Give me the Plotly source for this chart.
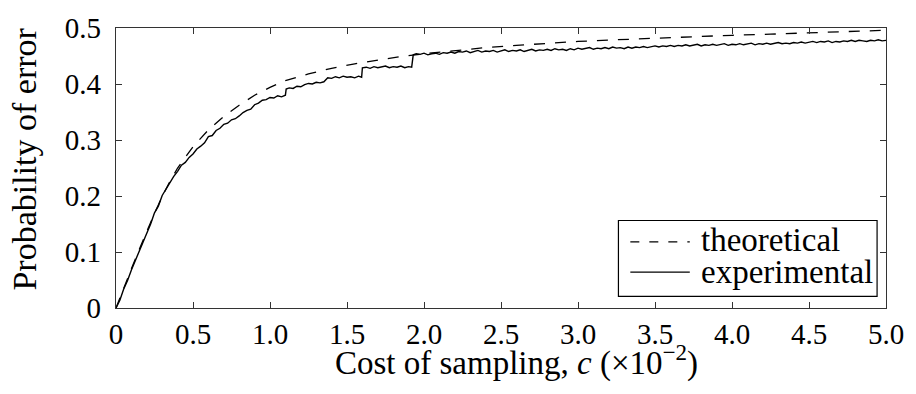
import plotly.graph_objects as go

# ---- data -------------------------------------------------------------
x_tick_vals = [0, 0.5, 1.0, 1.5, 2.0, 2.5, 3.0, 3.5, 4.0, 4.5, 5.0]
x_tick_text = ["0", "0.5", "1.0", "1.5", "2.0", "2.5", "3.0", "3.5", "4.0", "4.5", "5.0"]
y_tick_vals = [0, 0.1, 0.2, 0.3, 0.4, 0.5]
y_tick_text = ["0", "0.1", "0.2", "0.3", "0.4", "0.5"]

# theoretical probability of error vs cost of sampling (c in units of 1e-2)
theo_c = [0.0, 0.05, 0.1, 0.15, 0.2, 0.25, 0.3, 0.35, 0.4, 0.45, 0.5, 0.6, 0.7,
          0.8, 0.9, 1.0, 1.1, 1.25, 1.4, 1.55, 1.7, 1.85, 2.0, 2.2, 2.4, 2.6,
          2.8, 3.0, 3.25, 3.5, 3.75, 4.0, 4.25, 4.5, 4.75, 5.0]
theo_p = [0.000, 0.036, 0.070, 0.104, 0.137, 0.169, 0.199, 0.226, 0.250, 0.270,
          0.288, 0.318, 0.342, 0.362, 0.380, 0.394, 0.406, 0.418, 0.428, 0.436,
          0.443, 0.449, 0.454, 0.460, 0.465, 0.469, 0.473, 0.476, 0.479, 0.482,
          0.485, 0.487, 0.489, 0.491, 0.494, 0.496]

# experimental (simulated) probability of error
exp_c = [
    0.000, 0.025, 0.050, 0.075, 0.100, 0.125, 0.150, 0.175, 0.200, 0.225,
    0.250, 0.275, 0.300, 0.325, 0.350, 0.375, 0.400, 0.425, 0.450, 0.475,
    0.500, 0.525, 0.550, 0.575, 0.600, 0.625, 0.650, 0.675, 0.700, 0.725,
    0.750, 0.775, 0.800, 0.825, 0.850, 0.875, 0.900, 0.925, 0.950, 0.975,
    1.000, 1.025, 1.050, 1.075, 1.100,
    1.105, 1.125, 1.150, 1.175, 1.200, 1.225, 1.250, 1.275, 1.300, 1.325,
    1.350, 1.375, 1.400, 1.425, 1.450, 1.475, 1.500, 1.525, 1.550, 1.575,
    1.595,
    1.600, 1.625, 1.650, 1.675, 1.700, 1.725, 1.750, 1.775, 1.800, 1.825,
    1.850, 1.875, 1.900, 1.920,
    1.930, 1.950, 1.975,
    2.000, 2.025, 2.050, 2.075, 2.100, 2.125, 2.150, 2.175, 2.200, 2.225,
    2.250, 2.275, 2.300, 2.325, 2.350, 2.375, 2.400, 2.425, 2.450, 2.475,
    2.500, 2.525, 2.550, 2.575, 2.600, 2.625, 2.650, 2.675, 2.700, 2.725,
    2.750, 2.775, 2.800, 2.825, 2.850, 2.875, 2.900, 2.925, 2.950, 2.975,
    3.000, 3.025, 3.050, 3.075, 3.100, 3.125, 3.150, 3.175, 3.200, 3.225,
    3.250, 3.275, 3.300, 3.325, 3.350, 3.375, 3.400, 3.425, 3.450, 3.475,
    3.500, 3.525, 3.550, 3.575, 3.600, 3.625, 3.650, 3.675, 3.700, 3.725,
    3.750, 3.775, 3.800, 3.825, 3.850, 3.875, 3.900, 3.925, 3.950, 3.975,
    4.000, 4.025, 4.050, 4.075, 4.100, 4.125, 4.150, 4.175, 4.200, 4.225,
    4.250, 4.275, 4.300, 4.325, 4.350, 4.375, 4.400, 4.425, 4.450, 4.475,
    4.500, 4.525, 4.550, 4.575, 4.600, 4.625, 4.650, 4.675, 4.700, 4.725,
    4.750, 4.775, 4.800, 4.825, 4.850, 4.875, 4.900, 4.925, 4.950, 4.975,
    5.000,
]
exp_p = [
    0.000, 0.014, 0.034, 0.049, 0.068, 0.084, 0.099, 0.118, 0.133, 0.150,
    0.170, 0.182, 0.201, 0.212, 0.225, 0.235, 0.244, 0.255, 0.260, 0.269,
    0.275, 0.284, 0.289, 0.295, 0.306, 0.308, 0.317, 0.321, 0.328, 0.330,
    0.336, 0.338, 0.343, 0.349, 0.353, 0.355, 0.363, 0.366, 0.371, 0.372,
    0.376, 0.375, 0.379, 0.377, 0.380,
    0.391, 0.393, 0.392, 0.396, 0.395, 0.399, 0.401, 0.400, 0.403, 0.402,
    0.404, 0.411, 0.410, 0.413, 0.411, 0.414, 0.412, 0.413, 0.411, 0.414,
    0.412,
    0.429, 0.430, 0.428, 0.431, 0.429, 0.430, 0.432, 0.429, 0.431, 0.430,
    0.432, 0.429, 0.431, 0.430,
    0.452, 0.454, 0.453,
    0.455, 0.452, 0.454, 0.455, 0.453, 0.456, 0.455, 0.457, 0.455, 0.458,
    0.457, 0.459, 0.456, 0.458, 0.460, 0.457, 0.459, 0.458, 0.460, 0.457,
    0.459, 0.461, 0.458, 0.460, 0.459, 0.461, 0.458, 0.460, 0.462, 0.459,
    0.461, 0.460, 0.462, 0.460, 0.463, 0.461, 0.462, 0.460, 0.463, 0.461,
    0.464, 0.462, 0.463, 0.465, 0.462, 0.464, 0.463, 0.465, 0.463, 0.466,
    0.464, 0.465, 0.463, 0.466, 0.464, 0.466, 0.465, 0.467, 0.465, 0.466,
    0.468, 0.466, 0.468, 0.467, 0.469, 0.467, 0.469, 0.468, 0.470, 0.468,
    0.469, 0.471, 0.468, 0.470, 0.469, 0.471, 0.469, 0.470, 0.472, 0.469,
    0.471, 0.470, 0.472, 0.470, 0.471, 0.473, 0.470, 0.472, 0.471, 0.473,
    0.471, 0.472, 0.474, 0.472, 0.473, 0.472, 0.474, 0.473, 0.475, 0.473,
    0.474, 0.476, 0.474, 0.476, 0.475, 0.477, 0.474, 0.476, 0.475, 0.477,
    0.476, 0.478, 0.476, 0.478, 0.477, 0.476, 0.478, 0.477, 0.479, 0.477,
    0.478,
]
assert len(exp_c) == len(exp_p)

# ---- layout geometry (pixels) -----------------------------------------
W, H = 916, 394
L, R, T, B = 116, 23, 20, 86
PW, PH = W - L - R, H - T - B


def px(xp):
    return (xp - L) / PW


def py(yp):
    return (H - B - yp) / PH


SERIF = "Liberation Serif"
FRAME = "#333333"

fig = go.Figure()
fig.add_trace(go.Scatter(x=theo_c, y=theo_p, mode="lines", name="theoretical",
                         line=dict(color="black", width=1.3, dash="11px,10px"),
                         showlegend=False))
fig.add_trace(go.Scatter(x=exp_c, y=exp_p, mode="lines", name="experimental",
                         line=dict(color="black", width=1.4),
                         showlegend=False))

axis_common = dict(showline=True, linecolor=FRAME, linewidth=1.3, mirror="allticks",
                   ticks="inside", ticklen=6, tickwidth=1.2, tickcolor=FRAME,
                   showgrid=False, zeroline=False,
                   tickfont=dict(family=SERIF, size=29, color="black"))
fig.update_xaxes(range=[0, 5], tickvals=x_tick_vals, ticktext=x_tick_text,
                 ticklabelstandoff=0, **axis_common)
fig.update_yaxes(range=[0, 0.5], tickvals=y_tick_vals, ticktext=y_tick_text,
                 ticklabelstandoff=8, **axis_common)

# legend box with line samples
lx0, lx1, ly0, ly1 = 623, 884, 218, 296
shapes = [
    dict(type="rect", xref="paper", yref="paper", x0=px(lx0), x1=px(lx1),
         y0=py(ly1), y1=py(ly0), line=dict(color="black", width=1.2),
         fillcolor="white", layer="above"),
    dict(type="line", xref="paper", yref="paper", x0=px(635), x1=px(695),
         y0=py(240), y1=py(240), line=dict(color="black", width=1.3, dash="9px,10px")),
    dict(type="line", xref="paper", yref="paper", x0=px(635), x1=px(695),
         y0=py(271), y1=py(271), line=dict(color="black", width=1.3)),
]

annotations = [
    dict(text="theoretical", xref="paper", yref="paper", x=px(704), y=py(238),
         xanchor="left", yanchor="middle", showarrow=False,
         font=dict(family=SERIF, size=33, color="black")),
    dict(text="experimental", xref="paper", yref="paper", x=px(704), y=py(271),
         xanchor="left", yanchor="middle", showarrow=False,
         font=dict(family=SERIF, size=33, color="black")),
    dict(text="Cost of sampling, <i>c</i> (×10<sup>−2</sup>)", xref="paper", yref="paper",
         x=px(520), y=py(362), xanchor="center", yanchor="middle", showarrow=False,
         font=dict(family=SERIF, size=33, color="black")),
    dict(text="Probability of error", xref="paper", yref="paper",
         x=px(23.5), y=py(155), xanchor="center", yanchor="middle", showarrow=False,
         textangle=-90, font=dict(family=SERIF, size=34, color="black")),
]

fig.update_layout(width=W, height=H, margin=dict(l=L, r=R, t=T, b=B),
                  paper_bgcolor="white", plot_bgcolor="white",
                  shapes=shapes, annotations=annotations)

fig.write_html("out.html")
